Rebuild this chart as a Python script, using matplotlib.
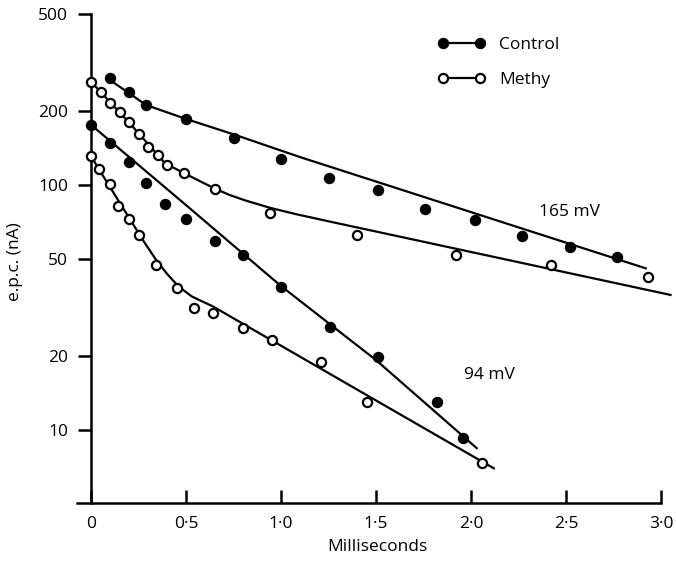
import matplotlib

matplotlib.use("Agg")

import matplotlib.pyplot as plt
from matplotlib.lines import Line2D
from matplotlib.ticker import FixedLocator, FixedFormatter, NullLocator

plt.rcParams["font.family"] = ["Open Sans", "DejaVu Sans"]
plt.rcParams["font.weight"] = 500

# measured points (ms, nA)
ctrl_165_x = [0.10, 0.20, 0.29, 0.50, 0.75, 1.00, 1.25, 1.51, 1.76, 2.02, 2.27, 2.52, 2.77]
ctrl_165_y = [272, 240, 212, 186, 156, 128, 107, 95, 80, 72, 62, 56, 51]

methy_165_x = [0.0, 0.05, 0.10, 0.15, 0.20, 0.25, 0.30, 0.35, 0.40, 0.49, 0.65, 0.94, 1.40, 1.92, 2.42, 2.93]
methy_165_y = [264, 239, 217, 199, 180, 161, 143, 132, 121, 112, 96, 77, 62.5, 52, 47, 42]

ctrl_94_x = [0.0, 0.10, 0.20, 0.29, 0.39, 0.50, 0.65, 0.80, 1.00, 1.26, 1.51, 1.82, 1.96]
ctrl_94_y = [176, 149, 124, 102, 84, 72.6, 59.3, 51.8, 38.5, 26.4, 19.9, 13.0, 9.3]

methy_94_x = [0.0, 0.04, 0.10, 0.14, 0.20, 0.25, 0.34, 0.45, 0.54, 0.64, 0.80, 0.95, 1.21, 1.45, 2.06]
methy_94_y = [131, 116, 100.6, 82.3, 72.4, 62.5, 47.1, 37.9, 31.4, 30.1, 26.2, 23.3, 19.0, 13.05, 7.35]

# fitted curves
fit_ctrl_165_x = [0.10, 0.20, 0.29, 0.50, 0.75, 1.10, 2.92]
fit_ctrl_165_y = [268, 237, 212, 186, 161, 130, 45.7]

fit_methy_165_x = [0.0, 0.20, 0.39, 0.49, 0.57, 0.65, 0.73, 0.81, 0.94, 1.08, 1.25, 3.05]
fit_methy_165_y = [264, 180, 122.6, 111.7, 104, 96.8, 91, 86.6, 80.8, 76, 71.1, 35.6]

fit_ctrl_94_x = [0.0, 0.50, 1.00, 1.50, 2.03]
fit_ctrl_94_y = [176, 82.8, 38.7, 19.3, 8.44]

fit_methy_94_x = [0.0, 0.10, 0.20, 0.28, 0.34, 0.40, 0.46, 0.53, 0.64, 2.12]
fit_methy_94_y = [131, 98, 73.6, 58.5, 49.8, 43.4, 38.6, 35.1, 32.0, 6.98]

y_ticks = [10, 20, 50, 100, 200, 500]
x_ticks = [0, 0.5, 1.0, 1.5, 2.0, 2.5, 3.0]
x_tick_labels = ["0", "0·5", "1·0", "1·5", "2·0", "2·5", "3·0"]

W, H = 676, 564
fig = plt.figure(figsize=(W / 100, H / 100), dpi=100)
x0_px, px_per_ms = 91, 190
xmin, xmax = -0.075, 3.08
left = (x0_px + xmin * px_per_ms) / W
right = (x0_px + xmax * px_per_ms) / W
bottom = (H - 503) / H
top = (H - 13.7) / H
ax = fig.add_axes([left, bottom, right - left, top - bottom])

fs = 12.5
lw = 1.6
for fx, fy in [(fit_ctrl_165_x, fit_ctrl_165_y), (fit_methy_165_x, fit_methy_165_y),
               (fit_ctrl_94_x, fit_ctrl_94_y), (fit_methy_94_x, fit_methy_94_y)]:
    ax.plot(fx, fy, color="black", linewidth=lw, zorder=2, clip_on=False,
            solid_joinstyle="round")

filled = dict(linestyle="none", marker="o", markersize=7.2, markerfacecolor="black",
              markeredgecolor="black", zorder=3, clip_on=False)
hollow = dict(linestyle="none", marker="o", markersize=6.6, markerfacecolor="white",
              markeredgecolor="black", markeredgewidth=1.6, zorder=3, clip_on=False)
ax.plot(ctrl_165_x, ctrl_165_y, **filled)
ax.plot(ctrl_94_x, ctrl_94_y, **filled)
ax.plot(methy_165_x, methy_165_y, **hollow)
ax.plot(methy_94_x, methy_94_y, **hollow)

ax.set_yscale("log")
ax.set_xlim(xmin, xmax)
ax.set_ylim(5.04, 500)

for side in ["top", "right"]:
    ax.spines[side].set_visible(False)
ax.spines["left"].set_position(("data", 0))
ax.spines["bottom"].set_bounds(xmin, 3.0)
for side in ["left", "bottom"]:
    ax.spines[side].set_linewidth(1.8)

ax.yaxis.set_major_locator(FixedLocator(y_ticks))
ax.yaxis.set_major_formatter(FixedFormatter([str(t) for t in y_ticks]))
ax.yaxis.set_minor_locator(NullLocator())
ax.xaxis.set_major_locator(FixedLocator(x_ticks))
ax.xaxis.set_major_formatter(FixedFormatter(x_tick_labels))
ax.tick_params(axis="y", direction="out", length=9.4, width=1.8, pad=7, labelsize=fs)
ax.tick_params(axis="x", direction="in", length=9.4, width=1.8, pad=9, labelsize=fs)

ax.text(2.52, 77.6, "165 mV", ha="center", va="center", fontsize=fs)
ax.text(2.095, 16.8, "94 mV", ha="center", va="center", fontsize=fs)

fig.text(377.5 / W, 1 - 547 / H, "Milliseconds", ha="center", va="center", fontsize=fs)
fig.text(15 / W, 1 - 262 / H, "e.p.c. (nA)", ha="center", va="center", rotation=90, fontsize=fs)

handles = [
    Line2D([0], [0], color="black", linewidth=lw, marker="o", markersize=7.2,
           markerfacecolor="black", markeredgecolor="black"),
    Line2D([0], [0], color="black", linewidth=lw, marker="o", markersize=6.6,
           markerfacecolor="white", markeredgecolor="black", markeredgewidth=1.6),
]
fig.legend(handles, ["Control", "Methy"], loc="upper left",
           bbox_to_anchor=(438 / W, 1 - 37 / H), frameon=False, numpoints=2,
           handlelength=2.7, handletextpad=0.8, labelspacing=1.1,
           borderpad=0, borderaxespad=0, fontsize=fs)

fig.savefig("out.png", dpi=100)
